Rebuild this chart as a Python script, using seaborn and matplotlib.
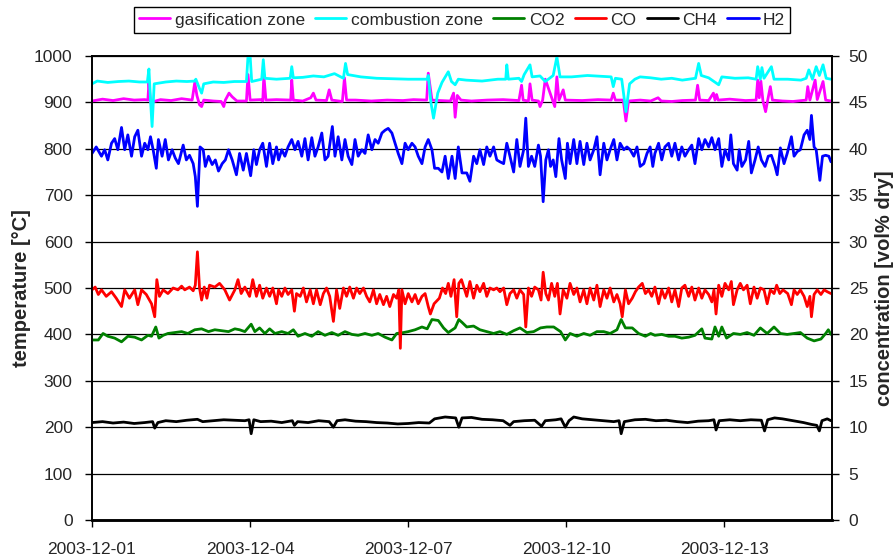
import numpy as np
import pandas as pd
import matplotlib
matplotlib.use("Agg")
import matplotlib.pyplot as plt
import seaborn as sns

# ---------------- data (time in days after 2003-12-01 00:00) ----------------
h2_t = [0.00, 0.08, 0.18, 0.24, 0.30, 0.37, 0.43, 0.49, 0.56, 0.62, 0.68, 0.75, 0.81, 0.87, 0.94,
        1.00, 1.06, 1.11, 1.16, 1.22, 1.26, 1.33, 1.39, 1.45, 1.52, 1.58, 1.64, 1.73, 1.79, 1.85,
        1.92, 1.96, 2.00, 2.05, 2.11, 2.15, 2.21, 2.28, 2.34, 2.40, 2.47, 2.53, 2.59, 2.66, 2.74,
        2.80, 2.87, 2.93, 3.01, 3.07, 3.12, 3.18, 3.24, 3.31, 3.37, 3.43, 3.50, 3.54, 3.60, 3.66,
        3.72, 3.79, 3.85, 3.91, 3.98, 4.04, 4.10, 4.17, 4.23, 4.29, 4.36, 4.42, 4.48, 4.56, 4.61,
        4.67, 4.74, 4.80, 4.86, 4.93, 4.99, 5.05, 5.12, 5.18, 5.24, 5.31, 5.37, 5.43, 5.50, 5.56,
        5.62, 5.69, 5.75, 5.81, 5.88, 5.94, 6.00, 6.07, 6.13, 6.19, 6.26, 6.32, 6.38, 6.45, 6.50,
        6.57, 6.64, 6.70, 6.76, 6.83, 6.89, 6.95, 7.02, 7.11, 7.17, 7.24, 7.30, 7.36, 7.43, 7.49,
        7.55, 7.62, 7.68, 7.74, 7.81, 7.87, 7.93, 8.00, 8.06, 8.12, 8.19, 8.23, 8.28, 8.34, 8.40,
        8.47, 8.51, 8.56, 8.61, 8.66, 8.70, 8.75, 8.80, 8.86, 8.91, 8.98, 9.02, 9.07, 9.14, 9.20,
        9.26, 9.33, 9.39, 9.45, 9.52, 9.58, 9.64, 9.71, 9.77, 9.83, 9.90, 9.96, 10.02, 10.09, 10.15,
        10.21, 10.28, 10.34, 10.40, 10.47, 10.53, 10.59, 10.64, 10.68, 10.75, 10.81, 10.87, 10.94, 11.00, 11.06,
        11.13, 11.19, 11.25, 11.32, 11.38, 11.44, 11.51, 11.57, 11.63, 11.70, 11.76, 11.82, 11.89, 11.95, 12.01,
        12.08, 12.12, 12.17, 12.24, 12.28, 12.33, 12.40, 12.46, 12.51, 12.58, 12.64, 12.70, 12.77, 12.83, 12.89,
        12.96, 13.00, 13.06, 13.13, 13.19, 13.27, 13.32, 13.38, 13.44, 13.51, 13.57, 13.62, 13.65, 13.70, 13.74,
        13.81, 13.86, 13.92, 13.98, 14.02]
h2_v = [39.5, 40.2, 39.2, 39.9, 38.8, 40.6, 41.1, 39.9, 42.3, 39.9, 41.5, 39.2, 41.3, 42.0, 39.2,
        40.6, 39.9, 41.3, 39.9, 37.9, 41.0, 39.2, 41.0, 38.8, 39.9, 39.0, 38.4, 40.4, 38.8, 39.3,
        38.4, 37.0, 33.8, 40.2, 39.9, 38.1, 39.2, 38.3, 38.8, 37.6, 38.4, 38.8, 39.9, 38.8, 37.2,
        39.5, 37.7, 39.5, 37.1, 39.9, 38.3, 39.9, 40.6, 38.1, 40.6, 38.4, 40.2, 38.8, 39.9, 39.2,
        40.2, 41.0, 39.9, 40.8, 39.2, 41.1, 38.8, 41.2, 39.2, 40.2, 41.7, 38.8, 39.2, 42.4, 39.2,
        41.3, 38.8, 41.0, 39.2, 38.3, 41.0, 39.2, 39.9, 39.5, 41.5, 39.9, 41.0, 40.6, 41.7, 42.0,
        42.2, 41.7, 40.6, 39.5, 38.4, 40.6, 39.9, 40.6, 40.2, 39.2, 38.4, 40.2, 41.0, 39.9, 37.9,
        37.9, 37.5, 39.2, 36.8, 39.2, 36.8, 40.2, 37.4, 37.4, 36.5, 39.2, 38.4, 39.9, 38.3, 40.2,
        39.2, 40.2, 38.8, 38.6, 38.4, 40.6, 39.2, 37.5, 41.0, 38.1, 39.9, 43.3, 38.1, 39.2, 38.1,
        40.4, 39.2, 34.3, 38.8, 39.9, 38.1, 38.8, 37.0, 41.1, 38.8, 36.8, 40.6, 38.4, 41.0, 38.4,
        40.8, 38.3, 40.6, 38.8, 39.9, 41.3, 37.2, 40.6, 38.8, 39.9, 41.0, 38.8, 40.6, 39.9, 40.2,
        39.9, 39.2, 40.2, 38.1, 38.4, 39.5, 40.2, 38.1, 39.5, 40.6, 38.8, 40.2, 40.6, 39.2, 40.6,
        38.8, 40.2, 39.2, 39.9, 40.4, 38.4, 41.1, 39.9, 41.0, 40.2, 41.2, 39.9, 41.1, 38.1, 39.9,
        38.8, 41.5, 38.4, 37.7, 39.9, 38.1, 38.8, 40.8, 37.4, 38.8, 40.2, 38.8, 38.1, 39.2, 39.3,
        38.1, 37.2, 40.1, 38.4, 39.5, 41.3, 39.2, 39.7, 39.9, 41.5, 42.0, 41.0, 43.6, 40.2, 39.9,
        36.6, 39.2, 39.3, 39.2, 38.6]

co_t = [0.00, 0.06, 0.12, 0.18, 0.27, 0.37, 0.46, 0.56, 0.62, 0.71, 0.81, 0.87, 0.94, 1.03, 1.13,
        1.19, 1.23, 1.28, 1.35, 1.44, 1.54, 1.63, 1.70, 1.76, 1.85, 1.92, 1.96, 2.00, 2.04, 2.08,
        2.13, 2.18, 2.23, 2.33, 2.42, 2.52, 2.61, 2.71, 2.77, 2.83, 2.90, 2.99, 3.05, 3.12, 3.18,
        3.24, 3.31, 3.37, 3.43, 3.50, 3.54, 3.60, 3.66, 3.72, 3.79, 3.84, 3.88, 3.95, 4.01, 4.07,
        4.14, 4.20, 4.26, 4.33, 4.39, 4.45, 4.51, 4.58, 4.64, 4.70, 4.77, 4.83, 4.89, 4.96, 5.02,
        5.08, 5.15, 5.21, 5.27, 5.34, 5.40, 5.46, 5.53, 5.59, 5.65, 5.72, 5.78, 5.82, 5.85, 5.88,
        5.94, 6.00, 6.07, 6.13, 6.19, 6.26, 6.32, 6.38, 6.42, 6.49, 6.59, 6.65, 6.71, 6.76, 6.81,
        6.87, 6.92, 6.96, 7.01, 7.11, 7.17, 7.24, 7.30, 7.36, 7.43, 7.49, 7.55, 7.62, 7.68, 7.74,
        7.81, 7.87, 7.93, 8.00, 8.06, 8.12, 8.19, 8.23, 8.28, 8.34, 8.40, 8.47, 8.52, 8.56, 8.61,
        8.66, 8.72, 8.78, 8.83, 8.88, 8.94, 9.01, 9.07, 9.14, 9.20, 9.26, 9.33, 9.39, 9.45, 9.52,
        9.58, 9.64, 9.71, 9.77, 9.83, 9.90, 9.96, 10.02, 10.06, 10.12, 10.18, 10.25, 10.31, 10.37, 10.44,
        10.50, 10.56, 10.62, 10.68, 10.75, 10.81, 10.87, 10.94, 11.00, 11.06, 11.13, 11.19, 11.25, 11.32, 11.38,
        11.44, 11.51, 11.57, 11.63, 11.70, 11.76, 11.80, 11.84, 11.89, 11.95, 12.01, 12.08, 12.13, 12.17, 12.24,
        12.30, 12.36, 12.43, 12.49, 12.56, 12.62, 12.68, 12.75, 12.81, 12.87, 12.94, 12.99, 13.05, 13.11, 13.20,
        13.27, 13.32, 13.38, 13.44, 13.51, 13.57, 13.62, 13.65, 13.70, 13.76, 13.83, 13.89, 13.95, 14.02]
co_v = [24.8, 25.1, 24.3, 24.8, 24.1, 24.6, 23.9, 23.0, 24.8, 23.9, 24.8, 23.2, 24.8, 24.3, 23.3,
        21.9, 25.9, 24.1, 24.8, 24.4, 25.0, 24.8, 25.2, 24.8, 25.1, 24.7, 25.3, 28.9, 25.0, 23.7,
        25.1, 23.9, 25.3, 25.1, 25.5, 24.8, 23.7, 24.8, 25.9, 24.4, 25.1, 24.1, 25.9, 24.1, 25.3,
        23.9, 25.0, 24.1, 25.0, 23.3, 24.8, 24.1, 25.0, 24.3, 24.8, 22.5, 24.4, 24.1, 25.0, 23.5,
        24.8, 23.3, 24.8, 23.2, 24.4, 25.0, 24.1, 21.4, 24.8, 22.8, 25.0, 24.1, 25.1, 23.9, 25.0,
        24.4, 25.0, 24.1, 23.5, 24.8, 23.3, 24.3, 23.2, 24.1, 23.0, 24.3, 23.9, 24.8, 18.5, 24.8,
        23.3, 24.4, 23.5, 24.3, 23.3, 24.1, 24.4, 23.0, 22.2, 23.3, 23.9, 25.0, 24.4, 25.5, 24.1,
        25.9, 21.9, 25.5, 25.9, 24.1, 25.7, 23.9, 25.3, 24.6, 25.5, 24.1, 25.0, 24.8, 25.0, 24.6,
        25.0, 23.2, 24.4, 24.8, 23.9, 24.8, 24.3, 20.8, 25.0, 24.1, 25.1, 24.8, 23.7, 26.7, 24.4,
        23.7, 25.5, 24.1, 25.5, 22.2, 24.8, 23.9, 25.5, 24.3, 25.0, 23.5, 24.8, 23.3, 25.0, 23.7,
        25.3, 23.0, 24.8, 23.9, 25.0, 23.5, 24.3, 23.3, 21.9, 24.8, 23.3, 23.9, 24.6, 25.1, 25.5,
        24.4, 24.8, 24.1, 25.1, 23.3, 24.8, 23.9, 25.0, 23.5, 24.8, 23.0, 25.0, 25.3, 24.1, 25.1,
        23.7, 25.0, 23.9, 24.8, 24.3, 23.5, 24.8, 22.2, 25.3, 24.1, 25.5, 24.8, 25.7, 23.2, 24.8,
        25.5, 24.8, 25.3, 23.3, 25.1, 23.9, 25.0, 24.8, 23.3, 24.8, 24.4, 25.3, 24.4, 24.8, 24.4,
        23.2, 24.8, 24.3, 24.8, 24.1, 23.0, 24.1, 21.9, 24.3, 24.8, 24.3, 24.8, 24.6, 24.4]

co2_t = [0.00, 0.12, 0.21, 0.30, 0.43, 0.56, 0.68, 0.81, 0.94, 1.06, 1.13, 1.21, 1.27, 1.35, 1.44,
         1.57, 1.70, 1.82, 1.95, 2.08, 2.21, 2.33, 2.46, 2.59, 2.71, 2.80, 2.90, 3.02, 3.09, 3.18,
         3.28, 3.37, 3.47, 3.60, 3.72, 3.82, 3.91, 4.04, 4.17, 4.29, 4.42, 4.55, 4.67, 4.80, 4.93,
         5.05, 5.18, 5.31, 5.43, 5.56, 5.69, 5.78, 5.91, 6.00, 6.13, 6.26, 6.36, 6.45, 6.57, 6.67,
         6.76, 6.89, 6.96, 7.02, 7.11, 7.24, 7.36, 7.49, 7.62, 7.74, 7.87, 8.00, 8.12, 8.25, 8.38,
         8.51, 8.63, 8.76, 8.89, 8.98, 9.07, 9.20, 9.33, 9.45, 9.58, 9.71, 9.83, 9.96, 10.04, 10.12,
         10.25, 10.37, 10.50, 10.60, 10.68, 10.81, 10.94, 11.06, 11.19, 11.32, 11.44, 11.57, 11.63, 11.76, 11.82,
         11.89, 11.95, 12.04, 12.17, 12.30, 12.43, 12.56, 12.68, 12.81, 12.94, 13.06, 13.19, 13.32, 13.44, 13.57,
         13.70, 13.83, 13.92, 13.97, 14.02]
co2_v = [19.4, 19.4, 20.1, 19.8, 19.6, 19.2, 19.8, 19.7, 19.4, 19.9, 19.8, 20.8, 19.6, 19.9, 20.1,
         20.2, 20.3, 20.1, 20.5, 20.6, 20.3, 20.5, 20.4, 20.3, 20.6, 20.5, 20.3, 21.1, 20.3, 20.7,
         20.1, 20.6, 20.1, 20.3, 20.1, 20.5, 19.8, 20.1, 19.8, 20.3, 19.9, 20.2, 19.9, 20.3, 20.0,
         19.9, 20.1, 19.9, 20.1, 19.7, 19.4, 20.1, 20.2, 20.3, 20.5, 20.8, 20.6, 21.6, 21.5, 20.7,
         20.2, 20.7, 21.6, 21.3, 20.8, 20.9, 20.5, 20.3, 20.1, 20.3, 20.0, 20.4, 20.7, 20.2, 20.3,
         20.7, 20.8, 20.8, 20.3, 19.4, 20.1, 19.8, 20.1, 19.9, 20.3, 20.3, 20.1, 20.5, 21.6, 20.7,
         20.7, 20.1, 19.8, 20.1, 19.9, 20.0, 19.8, 19.8, 19.6, 19.7, 19.9, 20.6, 19.6, 19.5, 20.8,
         19.8, 20.8, 19.6, 20.1, 20.0, 20.2, 19.9, 20.7, 20.1, 20.8, 20.1, 20.0, 20.1, 20.2, 19.6,
         19.3, 19.5, 20.1, 20.5, 20.0]

ch4_t = [0.00, 0.20, 0.40, 0.60, 0.80, 1.00, 1.15, 1.19, 1.25, 1.40, 1.60, 1.80, 2.00, 2.10, 2.30,
         2.50, 2.70, 2.90, 2.98, 3.02, 3.07, 3.20, 3.40, 3.60, 3.80, 3.84, 3.90, 4.10, 4.30, 4.50,
         4.58, 4.65, 4.80, 5.00, 5.20, 5.40, 5.60, 5.80, 6.00, 6.20, 6.40, 6.50, 6.70, 6.90, 6.96,
         7.02, 7.20, 7.40, 7.60, 7.80, 7.93, 8.00, 8.20, 8.40, 8.53, 8.60, 8.80, 8.90, 8.98, 9.05,
         9.14, 9.30, 9.50, 9.70, 9.90, 10.00, 10.04, 10.10, 10.30, 10.50, 10.70, 10.90, 11.10, 11.30, 11.50,
         11.70, 11.80, 11.84, 11.90, 12.10, 12.30, 12.50, 12.70, 12.76, 12.82, 12.95, 13.10, 13.30, 13.50, 13.65,
         13.75, 13.80, 13.85, 13.95, 14.02]
ch4_v = [10.5, 10.6, 10.45, 10.55, 10.4, 10.5, 10.6, 9.9, 10.5, 10.7, 10.6, 10.75, 10.85, 10.6, 10.7,
         10.8, 10.75, 10.7, 10.8, 9.3, 10.8, 10.6, 10.65, 10.5, 10.7, 10.2, 10.6, 10.5, 10.7, 10.6,
         10.0, 10.7, 10.8, 10.65, 10.6, 10.5, 10.45, 10.35, 10.4, 10.5, 10.45, 10.9, 11.1, 11.0, 10.0,
         11.0, 11.05, 10.85, 10.8, 10.7, 10.2, 10.6, 10.7, 10.75, 10.1, 10.7, 10.8, 10.9, 10.0, 10.7,
         11.1, 10.9, 10.8, 10.7, 10.6, 10.7, 9.3, 10.6, 10.8, 10.85, 10.7, 10.75, 10.6, 10.5, 10.65,
         10.7, 10.8, 9.7, 10.7, 10.8, 10.7, 10.8, 10.75, 9.6, 10.8, 11.0, 10.9, 10.7, 10.5, 10.3,
         10.2, 9.6, 10.7, 10.9, 10.7]

gas_t = [0.00, 0.20, 0.40, 0.60, 0.80, 1.00, 1.06, 1.08, 1.11, 1.30, 1.50, 1.70, 1.90, 1.95, 1.99,
         2.04, 2.08, 2.12, 2.30, 2.45, 2.50, 2.53, 2.60, 2.66, 2.75, 2.93, 2.96, 3.00, 3.20, 3.24,
         3.26, 3.30, 3.50, 3.77, 3.79, 3.82, 4.00, 4.15, 4.20, 4.25, 4.45, 4.50, 4.55, 4.75, 4.79,
         4.83, 5.00, 5.30, 5.60, 5.90, 6.10, 6.35, 6.38, 6.45, 6.60, 6.80, 6.86, 6.89, 6.93, 7.00,
         7.20, 7.50, 7.80, 8.10, 8.15, 8.18, 8.28, 8.31, 8.35, 8.47, 8.50, 8.55, 8.60, 8.78, 8.82,
         8.86, 8.94, 8.98, 9.30, 9.60, 9.85, 9.89, 9.93, 10.08, 10.13, 10.18, 10.40, 10.60, 10.74, 10.80,
         11.00, 11.20, 11.45, 11.49, 11.53, 11.70, 11.79, 11.82, 11.85, 11.88, 12.10, 12.40, 12.60, 12.63, 12.66,
         12.69, 12.73, 12.78, 12.82, 12.87, 12.91, 13.10, 13.30, 13.55, 13.58, 13.62, 13.72, 13.76, 13.87, 13.92,
         14.02]
gas_v = [903, 907, 904, 908, 905, 906, 905, 942, 900, 906, 904, 908, 905, 943, 915,
         895, 891, 905, 903, 902, 891, 905, 920, 912, 903, 903, 960, 905, 906, 903,
         958, 905, 906, 905, 948, 905, 903, 910, 920, 905, 904, 927, 905, 902, 953,
         905, 905, 903, 905, 904, 906, 905, 963, 905, 904, 903, 920, 868, 915, 905,
         903, 905, 906, 904, 937, 905, 903, 940, 905, 903, 891, 905, 950, 891, 955,
         905, 927, 905, 904, 906, 905, 920, 905, 905, 860, 903, 905, 903, 910, 903,
         902, 904, 905, 937, 905, 904, 920, 905, 917, 905, 907, 904, 905, 948, 910,
         946, 903, 880, 905, 934, 905, 903, 902, 905, 934, 905, 948, 906, 945, 905,
         903]

comb_t = [0.00, 0.10, 0.30, 0.50, 0.70, 0.90, 1.05, 1.08, 1.11, 1.14, 1.18, 1.40, 1.60, 1.80, 1.95,
          1.97, 2.04, 2.08, 2.12, 2.30, 2.50, 2.70, 2.93, 2.96, 3.00, 3.03, 3.22, 3.25, 3.28, 3.50,
          3.76, 3.79, 3.82, 4.00, 4.20, 4.40, 4.60, 4.77, 4.81, 4.85, 5.10, 5.40, 5.70, 6.00, 6.20,
          6.36, 6.38, 6.43, 6.48, 6.56, 6.64, 6.76, 6.82, 6.89, 6.95, 7.10, 7.40, 7.70, 7.85, 7.87,
          7.90, 8.10, 8.15, 8.20, 8.31, 8.35, 8.50, 8.60, 8.75, 8.82, 8.88, 9.10, 9.40, 9.70, 9.85,
          9.89, 9.93, 10.05, 10.13, 10.20, 10.30, 10.40, 10.60, 10.80, 11.00, 11.20, 11.45, 11.51, 11.56, 11.70,
          11.89, 11.95, 12.20, 12.45, 12.60, 12.63, 12.68, 12.71, 12.75, 12.89, 12.94, 13.20, 13.45, 13.55, 13.60,
          13.67, 13.74, 13.80, 13.87, 13.93, 14.02]
comb_v = [940, 946, 943, 945, 946, 944, 944, 972, 905, 848, 940, 944, 946, 945, 946,
          950, 930, 920, 940, 944, 943, 945, 945, 1000, 1000, 945, 950, 992, 952, 950,
          952, 977, 953, 954, 957, 955, 962, 952, 984, 960, 955, 952, 951, 950, 950,
          950, 958, 900, 866, 920, 943, 966, 945, 938, 950, 948, 946, 950, 950, 981,
          950, 952, 945, 960, 981, 955, 957, 945, 958, 998, 955, 955, 958, 956, 955,
          934, 952, 950, 880, 940, 950, 955, 953, 950, 952, 948, 952, 984, 958, 953,
          938, 955, 952, 953, 950, 977, 950, 975, 952, 977, 950, 950, 948, 952, 970,
          950, 977, 958, 981, 952, 950]

xtick_labels = ["2003-12-01", "2003-12-04", "2003-12-07", "2003-12-10", "2003-12-13"]
start_date = "2003-12-01"

# ---------------- plotting ----------------
sns.set_style("white")
plt.rcParams["font.family"] = ["Liberation Sans", "DejaVu Sans"]

base = pd.Timestamp(start_date)


def frame(t, v):
    return pd.DataFrame({"time": base + pd.to_timedelta(np.asarray(t, float), unit="D"),
                         "value": np.asarray(v, float)})


fig = plt.figure(figsize=(8.93, 5.57), dpi=100)
ax = fig.add_axes([92 / 893, 1 - 520 / 557, 740 / 893, 464 / 557])
ax2 = ax.twinx()

lw = 2.0
left_series = [("gasification zone", gas_t, gas_v, "#FF00FF"),
               ("combustion zone", comb_t, comb_v, "#00FFFF")]
right_series = [("CO2", co2_t, co2_v, "#008000"),
                ("CO", co_t, co_v, "#FF0000"),
                ("CH4", ch4_t, ch4_v, "#000000"),
                ("H2", h2_t, h2_v, "#0000FF")]

handles = []
for name, t, v, c in left_series:
    sns.lineplot(data=frame(t, v), x="time", y="value", ax=ax, color=c, lw=lw,
                 label=name, legend=False, estimator=None)
    handles.append(ax.lines[-1])
for name, t, v, c in right_series:
    sns.lineplot(data=frame(t, v), x="time", y="value", ax=ax2, color=c, lw=lw,
                 label=name, legend=False, estimator=None)
    handles.append(ax2.lines[-1])

# axes limits and ticks
ax.set_ylim(0, 1000)
ax2.set_ylim(0, 50)
ax.set_yticks(np.arange(0, 1001, 100))
ax2.set_yticks(np.arange(0, 51, 5))
xt = pd.to_datetime(xtick_labels)
ax.set_xlim(base, base + pd.Timedelta(days=14.04))
ax.set_xticks(xt)
ax.set_xticklabels(xtick_labels)

ax.grid(axis="y", color="black", lw=0.9)
ax.grid(axis="x", visible=False)
ax2.grid(False)
ax.set_axisbelow(True)

for a in (ax, ax2):
    for s in a.spines.values():
        s.set_color("black")
        s.set_linewidth(1.2)
    a.spines["bottom"].set_linewidth(1.8)

ax.tick_params(axis="y", which="major", direction="out", length=5, width=1,
               color="black", labelsize=12.5, pad=9, left=True)
ax2.tick_params(axis="y", which="major", direction="out", length=5, width=1,
                color="black", labelsize=12.5, pad=7, right=True)
ax.tick_params(axis="x", which="major", direction="out", length=5, width=1,
               color="black", labelsize=12.5, pad=11, bottom=True)

ax.set_xlabel("")
ax.set_ylabel("temperature [°C]", fontsize=14.5, fontweight="bold")
ax2.set_ylabel("concentration [vol% dry]", fontsize=14.5, fontweight="bold")
ax.yaxis.set_label_coords((31 - 92) / 740, 0.5)
ax2.yaxis.set_label_coords((875 - 92) / 740, 0.5)

leg = fig.legend(handles=handles, labels=[h.get_label() for h in handles],
                 loc="center", bbox_to_anchor=(462 / 893, 1 - 20 / 557), ncol=6,
                 frameon=True, fancybox=False, framealpha=1, edgecolor="black",
                 fontsize=12.5, handlelength=1.8, handletextpad=0.25,
                 columnspacing=0.6, borderpad=0.3, borderaxespad=0)
leg.get_frame().set_linewidth(1.0)
for h in leg.legend_handles:
    h.set_linewidth(2)

fig.savefig("out.png", dpi=100)
